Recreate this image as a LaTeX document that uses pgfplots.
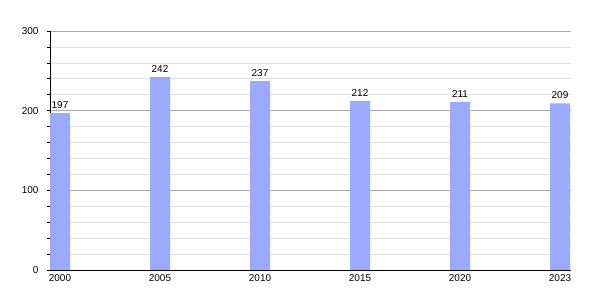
\documentclass[border=0pt]{standalone}
\usepackage{fontspec}
\setmainfont{Liberation Sans}
\usepackage{pgfplots}
\pgfplotsset{compat=1.18}
\definecolor{barc}{RGB}{153,170,255}
\definecolor{majg}{RGB}{170,170,170}
\definecolor{ming}{RGB}{224,224,224}
\begin{document}
\begin{tikzpicture}
\begin{axis}[
  scale only axis,
  width=521bp, height=239bp,
  xmin=0, xmax=5.21,
  ymin=0, ymax=300,
  ybar, bar width=20bp, bar shift=10bp,
  axis lines*=left,
  axis line style={black, line width=0.8pt},
  xtick={0.1,1.1,2.1,3.1,4.1,5.1},
  xticklabels={2000,2005,2010,2015,2020,2023},
  xtick style={draw=none},
  ytick={0,100,200,300},
  minor y tick num=4,
  ymajorgrids, yminorgrids,
  major grid style={majg, line width=0.8pt},
  minor grid style={ming, line width=0.6pt},
  tick align=outside,
  major tick length=3bp, minor tick length=3bp,
  ytick style={black, line width=0.6pt},
  tick label style={font=\fontsize{10}{12}\selectfont},
  yticklabel style={xshift=-5bp},
  /pgf/number format/assume math mode=true,
  nodes near coords,
  nodes near coords style={font=\fontsize{10}{12}\selectfont, black, yshift=1bp},
  xticklabel style={yshift=1.5bp},
]
\addplot[fill=barc, draw=none] coordinates {(0,197) (1,242) (2,237) (3,212) (4,211) (5,209)};
\end{axis}
\useasboundingbox ([xshift=-50bp,yshift=-30bp]current axis.south west) rectangle ([xshift=550bp,yshift=270bp]current axis.south west);
\end{tikzpicture}
\end{document}
